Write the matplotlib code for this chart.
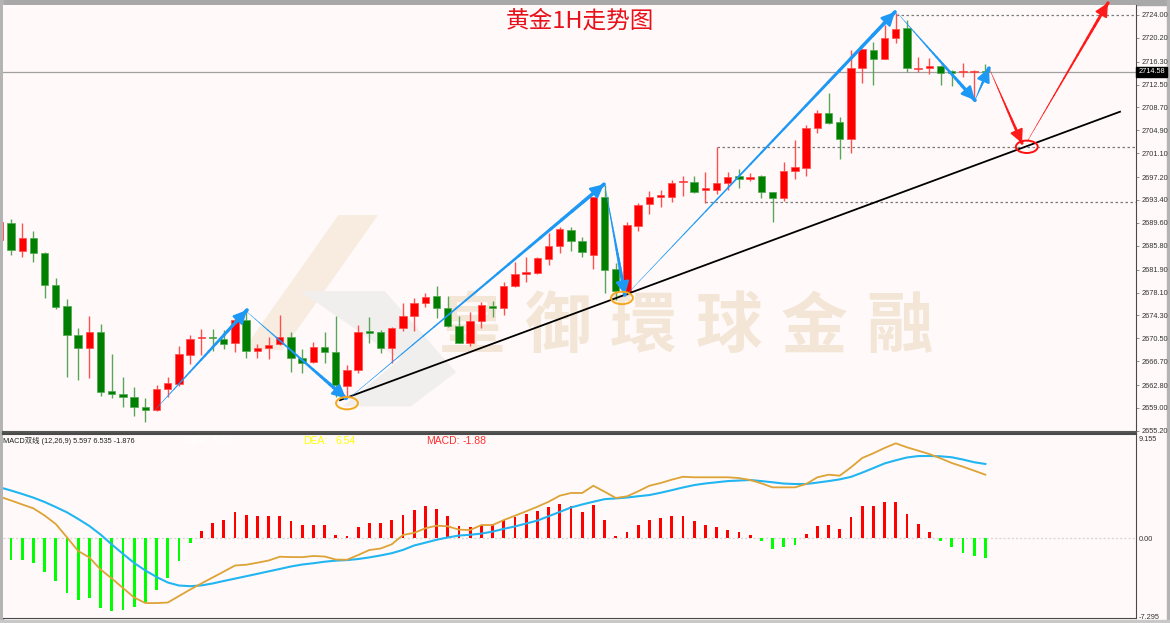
import numpy as np
import matplotlib.pyplot as plt
from matplotlib.collections import LineCollection
from matplotlib.patches import Ellipse, Polygon, Rectangle

# ---- 1H gold candles (open, high, low, close) ----
opens = [2686.8, 2689.6, 2685.0, 2687.1, 2684.6, 2679.3, 2675.9, 2671.1, 2668.9, 2671.6,
         2661.8, 2661.3, 2660.8, 2659.2, 2658.7, 2662.1, 2662.9, 2667.8, 2670.5, 2670.7,
         2670.4, 2669.8, 2673.6, 2668.4, 2668.9, 2669.6, 2670.7, 2667.3, 2666.6, 2669.1,
         2668.3, 2662.6, 2665.3, 2671.7, 2671.6, 2668.9, 2672.2, 2674.2, 2676.4, 2677.5,
         2675.5, 2672.6, 2669.8, 2673.4, 2675.9, 2675.5, 2679.2, 2681.1, 2681.3, 2683.7,
         2685.8, 2688.4, 2686.6, 2684.3, 2693.9, 2682.0, 2678.2, 2689.1, 2692.7, 2693.9,
         2693.9, 2696.3, 2696.4, 2695.1, 2695.1, 2696.2, 2697.3, 2696.9, 2697.3, 2694.7,
         2693.7, 2698.2, 2698.7, 2705.3, 2707.8, 2706.3, 2703.5, 2715.2, 2718.2, 2716.7,
         2720.2, 2721.8, 2715.1, 2715.2, 2715.6, 2714.7, 2714.5, 2714.6, 2714.7]
highs = [2690.2, 2690.3, 2689.6, 2688.3, 2684.8, 2680.5, 2677.0, 2672.2, 2674.2, 2672.9,
         2667.9, 2664.1, 2662.5, 2660.7, 2662.8, 2664.1, 2669.3, 2671.1, 2672.1, 2672.1,
         2671.9, 2674.0, 2675.4, 2669.6, 2670.7, 2674.4, 2671.6, 2668.8, 2669.9, 2671.6,
         2674.2, 2666.1, 2672.7, 2674.0, 2671.9, 2672.4, 2676.4, 2677.2, 2678.0, 2679.2,
         2677.5, 2674.2, 2674.9, 2676.5, 2676.7, 2679.8, 2683.1, 2684.0, 2684.0, 2688.0,
         2689.0, 2689.0, 2687.3, 2693.9, 2695.9, 2683.0, 2689.8, 2692.9, 2694.9, 2695.0,
         2696.7, 2697.4, 2697.4, 2698.0, 2702.2, 2698.0, 2698.5, 2697.9, 2697.6, 2694.7,
         2699.7, 2703.3, 2705.8, 2708.3, 2711.1, 2707.1, 2718.2, 2718.4, 2719.5, 2722.3,
         2724.3, 2723.2, 2717.1, 2716.9, 2715.7, 2714.9, 2716.1, 2714.9, 2715.9]
lows = [2686.3, 2684.3, 2684.0, 2683.1, 2677.2, 2675.4, 2664.1, 2663.6, 2664.0, 2661.0,
        2660.7, 2659.2, 2657.6, 2656.7, 2658.5, 2660.8, 2662.6, 2666.3, 2667.8, 2668.4,
        2668.8, 2668.3, 2667.3, 2667.3, 2667.1, 2669.4, 2665.0, 2664.8, 2666.4, 2666.4,
        2660.8, 2660.7, 2664.8, 2669.8, 2668.1, 2666.4, 2671.7, 2671.7, 2675.7, 2673.9,
        2672.4, 2669.8, 2669.3, 2672.2, 2674.1, 2674.4, 2679.0, 2679.8, 2681.2, 2682.6,
        2684.6, 2685.0, 2684.0, 2682.0, 2678.0, 2676.9, 2677.7, 2688.3, 2691.1, 2692.2,
        2693.0, 2694.0, 2694.5, 2692.9, 2694.4, 2695.1, 2695.4, 2696.5, 2693.7, 2689.8,
        2693.2, 2696.9, 2697.4, 2704.5, 2706.0, 2700.2, 2701.2, 2712.8, 2712.4, 2716.7,
        2719.4, 2714.6, 2714.6, 2714.2, 2712.4, 2712.3, 2713.7, 2709.8, 2714.4]
closes = [2689.8, 2685.1, 2687.1, 2684.6, 2679.3, 2675.7, 2671.1, 2668.9, 2671.6, 2661.6,
          2661.3, 2660.8, 2659.2, 2658.7, 2662.1, 2663.1, 2667.9, 2670.4, 2670.8, 2670.5,
          2669.6, 2673.6, 2668.4, 2668.9, 2669.4, 2670.7, 2667.3, 2666.4, 2669.1, 2668.3,
          2662.8, 2665.3, 2671.6, 2671.4, 2668.9, 2672.2, 2674.2, 2676.4, 2677.4, 2675.5,
          2672.6, 2669.8, 2673.4, 2676.0, 2675.5, 2679.2, 2681.2, 2681.5, 2683.8, 2685.8,
          2688.6, 2686.6, 2684.8, 2693.9, 2681.8, 2678.4, 2689.3, 2692.6, 2693.9, 2694.2,
          2696.2, 2696.6, 2694.7, 2695.4, 2696.2, 2697.2, 2696.9, 2697.2, 2694.7, 2693.7,
          2698.2, 2698.9, 2705.3, 2707.8, 2706.1, 2703.5, 2715.2, 2718.4, 2716.7, 2720.2,
          2721.7, 2715.2, 2715.3, 2715.6, 2714.4, 2714.4, 2714.7, 2714.8, 2714.58]

# ---- MACD (12,26,9) ----
hist = [-1.90, -2.03, -2.03, -2.31, -3.17, -4.00, -5.08, -5.70, -5.54, -6.47,
        -6.78, -6.62, -6.40, -5.94, -4.80, -3.70, -2.10, -0.49, 0.62, 1.36,
        1.66, 2.43, 2.12, 2.00, 2.00, 2.06, 1.54, 1.20, 1.23, 1.20,
        0.31, 0.15, 0.99, 1.39, 1.39, 1.66, 2.12, 2.59, 2.93, 2.68,
        2.06, 1.14, 0.99, 1.23, 1.30, 1.66, 1.97, 2.22, 2.53, 2.89,
        3.14, 2.99, 2.43, 3.05, 1.66, 0.22, 0.59, 1.23, 1.66, 1.82,
        2.00, 2.00, 1.54, 1.20, 0.99, 0.74, 0.52, 0.28, -0.30, -1.02,
        -0.80, -0.65, 0.37, 1.08, 1.23, 0.83, 1.91, 2.93, 2.99, 3.30,
        3.36, 2.22, 1.29, 0.52, -0.31, -0.86, -1.39, -1.69, -1.88]
dif = [3.82, 3.47, 3.10, 2.74, 2.08, 1.29, 0.06, -1.20, -1.80, -2.91,
       -3.74, -4.62, -5.50, -6.01, -6.01, -5.96, -5.36, -4.76, -4.20, -3.65,
       -3.10, -2.54, -2.47, -2.28, -2.08, -1.73, -1.76, -1.77, -1.66, -1.71,
       -1.99, -2.01, -1.57, -1.11, -0.97, -0.58, 0.28, 0.48, 0.90, 1.14,
       1.08, 0.77, 0.74, 1.20, 1.20, 1.66, 2.06, 2.47, 2.89, 3.35,
       3.91, 4.16, 4.16, 4.83, 4.28, 3.70, 3.85, 4.32, 4.83, 5.08,
       5.39, 5.66, 5.61, 5.61, 5.61, 5.61, 5.54, 5.36, 5.05, 4.68,
       4.68, 4.68, 4.99, 5.61, 5.85, 5.76, 6.53, 7.39, 7.83, 8.32,
       8.75, 8.38, 8.07, 7.76, 7.36, 6.93, 6.59, 6.22, 5.85]
dea = [4.68, 4.39, 4.07, 3.73, 3.33, 2.86, 2.37, 1.76, 1.11, 0.32,
       -0.60, -1.46, -2.31, -3.00, -3.60, -4.11, -4.39, -4.45, -4.38, -4.20,
       -3.97, -3.75, -3.53, -3.31, -3.08, -2.86, -2.63, -2.45, -2.33, -2.19,
       -2.09, -2.04, -1.94, -1.79, -1.61, -1.40, -1.10, -0.69, -0.43, -0.16,
       0.05, 0.23, 0.30, 0.41, 0.59, 0.85, 1.07, 1.34, 1.61, 2.01,
       2.41, 2.82, 3.10, 3.35, 3.59, 3.66, 3.74, 3.86, 3.97, 4.18,
       4.42, 4.67, 4.89, 5.04, 5.15, 5.26, 5.31, 5.36, 5.26, 5.15,
       5.03, 4.99, 4.99, 5.12, 5.26, 5.42, 5.65, 6.04, 6.46, 6.89,
       7.18, 7.44, 7.57, 7.58, 7.55, 7.46, 7.25, 7.00, 6.84]

price_ticks = [2724.00, 2720.20, 2716.30, 2712.50, 2708.70, 2704.90, 2701.10, 2697.20,
               2693.40, 2689.60, 2685.80, 2681.90, 2678.10, 2674.30, 2670.50, 2666.70,
               2662.80, 2659.00, 2655.20]
macd_ticks = [9.155, 0.0, -7.295]
last_price = 2714.58

# drawn analysis: (x0, p0, x1, p1) in bar index / price
blue_arrows = [(13.86, 2658.7, 22.07, 2675.2), (22.07, 2674.9, 30.91, 2660.6),
               (31.18, 2660.6, 53.95, 2696.0), (54.04, 2695.7, 55.82, 2677.7),
               (56.09, 2678.0, 79.93, 2724.5), (80.20, 2724.2, 87.07, 2709.9),
               (87.07, 2709.9, 88.32, 2715.2)]
red_arrows = [(88.41, 2714.9, 91.27, 2702.8), (91.71, 2703.0, 98.95, 2726.0)]
trend = (30.38, 2660.3, 100.02, 2708.0)
levels = [(80, 2724.0), (64, 2702.2), (63, 2693.0)]
circles = [(31.0, 2659.8, '#F2A81D'), (55.55, 2677.2, '#F2A81D'), (91.7, 2702.2, '#FF1010')]

BG = '#FFFAF9'
W, H = 1170, 623
fig = plt.figure(figsize=(W / 100, H / 100), dpi=100, facecolor=BG)

ax = fig.add_axes([3 / W, 1 - 432 / H, 1133 / W, 427 / H], facecolor=BG)
ax2 = fig.add_axes([3 / W, 1 - 618 / H, 1133 / W, 184 / H], facecolor=BG)

xs = np.arange(len(opens))
o = np.array(opens); c = np.array(closes)
up = c >= o
xl = (0.286, 101.45)

# watermark
for k, ch in enumerate('皇御環球金融'):
    ax.text(0.414 + 0.0755 * k, 0.244, ch, transform=ax.transAxes, fontsize=48,
            fontweight='bold', color='#F4E6D6', ha='center', va='center',
            family='Noto Sans CJK TC', zorder=0)
ax.add_patch(Polygon([(0.212, 0.192), (0.247, 0.192), (0.331, 0.508), (0.296, 0.508)],
                     closed=True, transform=ax.transAxes, color='#F7ECDF', zorder=0, lw=0))
ax.add_patch(Polygon([(0.262, 0.33), (0.337, 0.33), (0.40, 0.14), (0.36, 0.06),
                      (0.30, 0.06), (0.35, 0.17)],
                     closed=True, transform=ax.transAxes, color='#F1EFEE', zorder=0, lw=0))

# candles
body_col = np.where(up, '#FF0000', '#007F00')
edge_col = np.where(up, '#FF4A4A', '#4FA84F')
wick_col = np.where(up, '#FF5050', '#5AA55A')
ax.vlines(xs, lows, highs, colors=wick_col, lw=1.0, zorder=2)
ax.bar(xs, np.maximum(np.abs(c - o), 0.18), bottom=np.minimum(o, c), width=0.66,
       color=body_col, edgecolor=edge_col, lw=0.5, zorder=3)

# current price line
ax.axhline(last_price, color='#A0A0A0', lw=0.9, zorder=1)
for x0, lv in levels:
    ax.hlines(lv, x0, xl[1], colors='#7A7A7A', linestyles=(0, (2, 2)), lw=0.9, zorder=1)

# trend line
ax.plot([trend[0], trend[2]], [trend[1], trend[3]], color='black', lw=1.3, zorder=4)


def taper_arrow(a, x0, y0, x1, y1, color, wmax):
    t = np.linspace(0, 1, 25)
    px = x0 + (x1 - x0) * t
    py = y0 + (y1 - y0) * t
    segs = [[(px[k], py[k]), (px[k + 1], py[k + 1])] for k in range(len(t) - 1)]
    lc = LineCollection(segs, linewidths=np.linspace(0.3, wmax, len(segs)),
                        colors=color, capstyle='round', zorder=5, clip_on=False)
    a.add_collection(lc)
    a.annotate('', xy=(x1, y1), xytext=(px[-3], py[-3]), annotation_clip=False,
               arrowprops=dict(arrowstyle='-|>,head_length=0.8,head_width=0.4',
                               color=color, lw=wmax * 0.6, shrinkA=0, shrinkB=0),
               zorder=6)


for a_ in blue_arrows:
    taper_arrow(ax, *a_, '#1E98F5', 2.7)
for a_ in red_arrows:
    taper_arrow(ax, *a_, '#FF1A1A', 2.3)

for cx, cy, col in circles:
    ax.add_patch(Ellipse((cx, cy), 1.95, 2.05, fill=False, ec=col, lw=1.4, zorder=6))

ax.set_xlim(*xl)
ax.set_ylim(2655.03, 2725.65)
ax.set_xticks([])
ax.yaxis.tick_right()
ax.set_yticks(price_ticks)
ax.set_yticklabels(['%.2f' % v for v in price_ticks])
ax.tick_params(axis='y', length=2.5, width=0.6, color='#808080', pad=1.5,
               labelsize=5.3, labelcolor='#333333')
for lab in ax.get_yticklabels():
    lab.set_family('Liberation Sans')
for s in ['left', 'top']:
    ax.spines[s].set_visible(False)
ax.spines['right'].set_color('#4A4A4A')
ax.spines['bottom'].set_color('#555555')
ax.spines['bottom'].set_linewidth(1.5)

ax.text(1.002, last_price, '%.2f' % last_price, transform=ax.get_yaxis_transform(),
        fontsize=5.3, color='white', family='Liberation Sans', va='center', ha='left',
        bbox=dict(boxstyle='square,pad=0.25', fc='black', ec='black'), zorder=10, clip_on=False)

fig.text(0.496, 0.966, '黄金1H走势图', color='#E8101A', fontsize=17, ha='center', va='center',
         family='Noto Sans CJK SC')

# ---- MACD panel ----
hcol = ['#FF0000' if h > 0 else '#00FF00' for h in hist]
ax2.bar(xs, hist, width=0.25, color=hcol, zorder=3)
ax2.axhline(0, color='#D8D8D8', ls=(0, (1.5, 1.5)), lw=1.0, zorder=1)
ax2.plot(xs, dea, color='#21B5F2', lw=1.5, zorder=4)
ax2.plot(xs, dif, color='#DDA336', lw=1.3, zorder=4)
ax2.set_xlim(*xl)
ax2.set_ylim(-7.39, 9.61)
ax2.set_xticks([])
ax2.yaxis.tick_right()
ax2.set_yticks(macd_ticks)
ax2.set_yticklabels(['9.155', '0.00', '-7.295'])
ax2.tick_params(axis='y', length=0, pad=2, labelsize=5.3, labelcolor='#333333')
for lab in ax2.get_yticklabels():
    lab.set_family('Liberation Sans')
ax2.spines['left'].set_visible(False)
for s in ['top', 'right', 'bottom']:
    ax2.spines[s].set_color('#4A4A4A')
ax2.spines['top'].set_linewidth(1.5)

ax2.text(0.0, 0.96, 'MACD双线 (12,26,9) 5.597 6.535 -1.876', transform=ax2.transAxes,
         fontsize=5.3, color='#202020', va='center', ha='left',
         family=['Liberation Sans', 'Noto Sans CJK SC'])
for px_, txt, col in [(183, 'DIFF:', 'white'), (213, '5.60', 'white'),
                      (303, 'DEA:', '#FFFF00'), (335, '6.54', '#FFFF00'),
                      (426, 'MACD:', '#FF3030'), (463, '-1.88', '#FF3030')]:
    fig.text(px_ / W, 1 - 441 / H, txt, color=col, fontsize=7.5, va='center', ha='left',
             family='Liberation Sans')

# window frame
fig.patches.append(Rectangle((0, 1 - 5 / H), 1, 5 / H, transform=fig.transFigure,
                             color='#A8A8A8', zorder=-1))
fig.patches.append(Rectangle((0, 0), 3 / W, 1, transform=fig.transFigure,
                             color='#B4B4B4', zorder=-1))
fig.patches.append(Rectangle((1 - 3 / W, 0), 3 / W, 1, transform=fig.transFigure,
                             color='#B4B4B4', zorder=-1))
fig.patches.append(Rectangle((0, 0), 1, 3 / H, transform=fig.transFigure,
                             color='#C8C8C8', zorder=-1))

fig.savefig('out.png', dpi=100, facecolor=BG)
